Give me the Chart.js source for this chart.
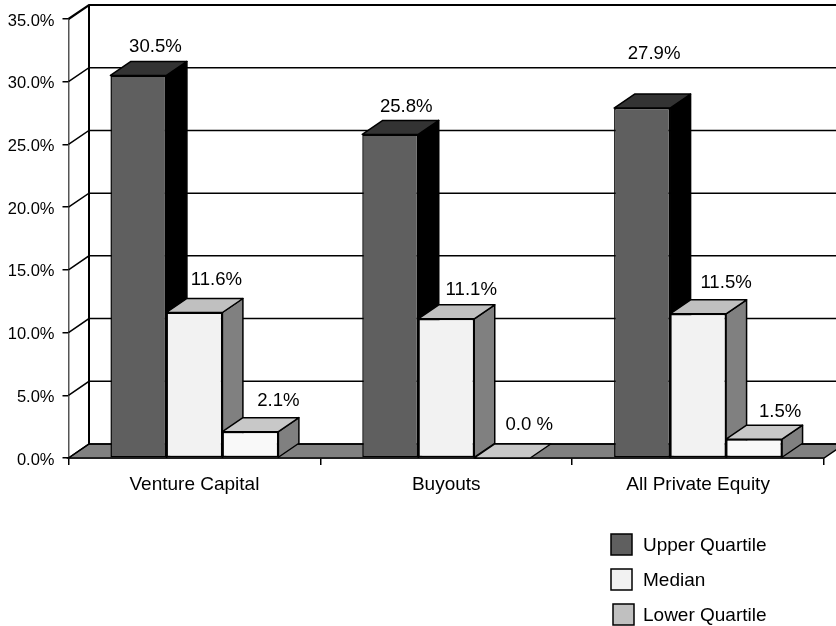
<!DOCTYPE html>
<html>
<head>
<meta charset="utf-8">
<title>Private equity returns by quartile</title>
<script src="https://cdn.jsdelivr.net/npm/chart.js@4"></script>
<style>
  html, body { margin: 0; padding: 0; background: #fff; overflow: hidden; }
  canvas { display: block; }
</style>
</head>
<body>
<canvas id="chart" width="836" height="626"></canvas>
<script>
const categories = ["Venture Capital", "Buyouts", "All Private Equity"];
const seriesNames = ["Upper Quartile", "Median", "Lower Quartile"];
const upperQuartile = [30.5, 25.8, 27.9];
const median = [11.6, 11.1, 11.5];
const lowerQuartile = [2.1, 0.0, 1.5];
const yTicks = [0, 5, 10, 15, 20, 25, 30, 35];
const lowerLabels = ["2.1%", "0.0 %", "1.5%"];

// 3d look
const depthX = 20.5, depthY = -14;
const labelFont = "18.6px 'Liberation Sans'";
const legendFont = "19px 'Liberation Sans'";

const frontColors = ["#5f5f5f", "#f2f2f2", "#f9f9f9"];
const topColors = ["#333333", "#c0c0c0", "#c8c8c8"];
const sideColors = ["#000000", "#808080", "#808080"];
const legendColors = ["#5f5f5f", "#f2f2f2", "#c0c0c0"];

// label shift from the bar's back top edge, by series then category
const labelShiftX = [[17, 16, 12], [22, 25, 28], [28, 27, 26]];
const labelShiftY = [[-15, -14, -40], [-19, -15, -17], [-17, -19, -13]];

function poly(ctx, pts, fill) {
    ctx.beginPath();
    pts.forEach((p, i) => i ? ctx.lineTo(p[0], p[1]) : ctx.moveTo(p[0], p[1]));
    ctx.closePath();
    if (fill) {
        ctx.fillStyle = fill;
        ctx.fill();
    }
    ctx.stroke();
}

const wallPlugin = {
    id: "wall",
    beforeDatasetsDraw(chart) {
        let ctx = chart.ctx;
        let x = chart.scales.x, y = chart.scales.y;
        let zero = y.getPixelForValue(0);
        let left = x.left, right = x.right;
        ctx.save();
        ctx.strokeStyle = "#000";

        // floor
        ctx.lineWidth = 1.5;
        poly(ctx, [[left, zero], [left + depthX, zero + depthY], [right + depthX, zero + depthY], [right, zero]], "#808080");

        // back grid and the slanted lines on the side wall
        yTicks.forEach(t => {
            let py = y.getPixelForValue(t);
            ctx.lineWidth = t === 35 ? 2.2 : 1.5;
            ctx.beginPath();
            ctx.moveTo(left, py);
            ctx.lineTo(left + depthX, py + depthY);
            ctx.lineTo(right + depthX, py + depthY);
            ctx.stroke();
        });
        ctx.lineWidth = 2;
        ctx.beginPath();
        ctx.moveTo(left + depthX, y.getPixelForValue(35) + depthY);
        ctx.lineTo(left + depthX, zero + depthY);
        ctx.stroke();

        // tops and sides of the bars, fronts come from the library
        ctx.lineWidth = 1.5;
        ctx.lineJoin = "round";
        categories.forEach((c, i) => {
            chart.data.datasets.forEach((ds, s) => {
                let bar = chart.getDatasetMeta(s).data[i];
                let x0 = bar.x - bar.width / 2, x1 = bar.x + bar.width / 2;
                let top = bar.y, base = bar.base;
                if (base - top > 0.5) {
                    poly(ctx, [[x1, top], [x1 + depthX, top + depthY], [x1 + depthX, base + depthY], [x1, base]], sideColors[s]);
                }
                poly(ctx, [[x0, top], [x0 + depthX, top + depthY], [x1 + depthX, top + depthY], [x1, top]], topColors[s]);
            });
        });
        ctx.restore();
    },
    afterDatasetsDraw(chart) {
        let ctx = chart.ctx;
        ctx.save();
        ctx.fillStyle = "#000";
        ctx.font = labelFont;
        ctx.textAlign = "center";
        ctx.textBaseline = "middle";
        chart.data.datasets.forEach((ds, s) => {
            ds.data.forEach((v, i) => {
                let bar = chart.getDatasetMeta(s).data[i];
                let text = s === 2 ? lowerLabels[i] : v.toFixed(1) + "%";
                ctx.fillText(text, bar.x + labelShiftX[s][i], bar.y + depthY + labelShiftY[s][i]);
            });
        });

        // legend, placed by hand to sit under the plot on the right
        ctx.textAlign = "left";
        ctx.font = legendFont;
        seriesNames.forEach((name, s) => {
            let ly = 544.5 + s * 35;
            let lx = s === 2 ? 613 : 611;
            ctx.fillStyle = legendColors[s];
            ctx.strokeStyle = "#000";
            ctx.lineWidth = 1.5;
            ctx.fillRect(lx, ly - 10.5, 21, 21);
            ctx.strokeRect(lx, ly - 10.5, 21, 21);
            ctx.fillStyle = "#000";
            ctx.fillText(name, 643, ly + 1);
        });
        ctx.restore();
    }
};

new Chart(document.getElementById("chart"), {
    type: "bar",
    data: {
        labels: categories,
        datasets: [upperQuartile, median, lowerQuartile].map((values, s) => ({
            label: seriesNames[s],
            data: values,
            backgroundColor: frontColors[s],
            borderColor: "#000",
            borderWidth: 1.5,
            borderSkipped: false,
            categoryPercentage: 0.667,
            barPercentage: 1
        }))
    },
    options: {
        responsive: false,
        animation: false,
        layout: { padding: { top: 19, right: 12, left: 0, bottom: 0 } },
        plugins: {
            legend: { display: false },
            tooltip: { enabled: false }
        },
        scales: {
            x: {
                afterFit: s => { s.height = 168; },
                grid: { drawOnChartArea: false, tickLength: 7, offset: true, color: "#000", lineWidth: 1.5 },
                border: { color: "#000", width: 1.5 },
                ticks: { color: "#000", font: { family: "Liberation Sans", size: 19 }, padding: 8, maxRotation: 0 }
            },
            y: {
                min: 0,
                max: 35,
                afterFit: s => { s.width = 68.5; },
                afterBuildTicks: s => { s.ticks = yTicks.map(v => ({ value: v })); },
                grid: { drawOnChartArea: false, tickLength: 6, color: "#000", lineWidth: 1.5 },
                border: { color: "#555", width: 1.5 },
                ticks: {
                    color: "#000",
                    font: { family: "Liberation Sans", size: 16.5 },
                    padding: 8,
                    labelOffset: 2,
                    callback: v => v.toFixed(1) + "%"
                }
            }
        }
    },
    plugins: [wallPlugin]
});
</script>
</body>
</html>
